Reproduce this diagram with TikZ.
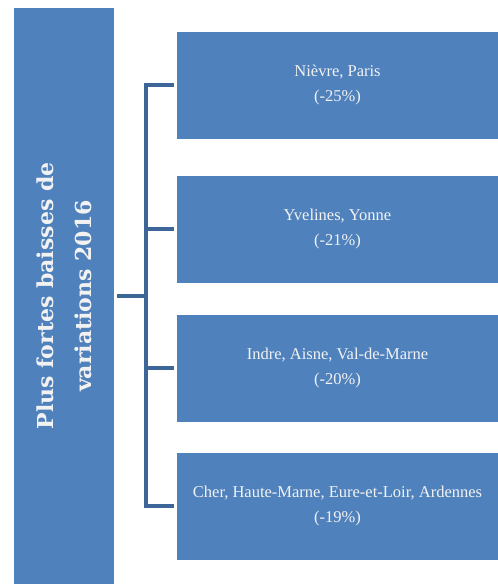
\documentclass[tikz,border=0pt]{standalone}
\usepackage{fontspec}
\setmainfont{Liberation Serif}
\newfontfamily\titrefont{DejaVu Serif}
\definecolor{bleu}{RGB}{79,129,189}
\definecolor{bleufonce}{RGB}{61,101,151}
\definecolor{blanc}{RGB}{242,242,242}

\begin{document}
\begin{tikzpicture}[x=1pt,y=-1pt,line join=miter,
  boite/.style={fill=bleu,text=blanc,align=center,inner sep=0pt,font=\fontsize{16.5}{25}\selectfont},
  lien/.style={draw=bleufonce,line width=4pt}]
  \useasboundingbox (0,0) rectangle (498,584);

  % grand bloc de gauche, texte tourne
  \node[boite,minimum width=100pt,minimum height=576pt] (titre) at (64,296) {};
  \node[rotate=90,text=blanc,align=center,font=\titrefont\bfseries\fontsize{22}{38}\selectfont] (titretxt) at (titre.center) {Plus fortes baisses de\\variations 2016};

  % les quatre blocs de droite
  \foreach \i/\y/\dep/\pct in {
    1/85/{Nièvre, Paris}/-25,
    2/229/{Yvelines, Yonne}/-21,
    3/368/{Indre, Aisne, Val-de-Marne}/-20,
    4/506/{Cher, Haute-Marne, Eure-et-Loir, Ardennes}/-19}
  {
    \node[boite,minimum width=321pt,minimum height=107pt] (b\i) at (337.5,\y) {\dep\\(\pct\%)};
  }

  % accolade
  \coordinate (barre) at (146,296);
  \draw[lien,shorten <=3pt,shorten >=3pt] (b1.west) -- (b1.west -| barre) -- (b4.west -| barre) -- (b4.west);
  \foreach \i in {2,3} \draw[lien,shorten >=3pt] (b\i.west -| barre) -- (b\i.west);
  \draw[lien,shorten <=3pt] (titre.east) -- (barre);
\end{tikzpicture}
\end{document}
